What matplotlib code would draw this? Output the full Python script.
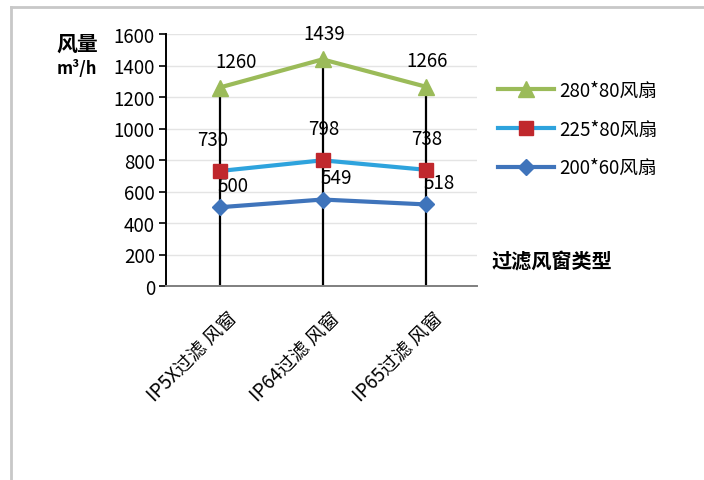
import matplotlib.pyplot as plt
from matplotlib.lines import Line2D
from matplotlib.transforms import ScaledTranslation

plt.rcParams['font.family'] = ['Noto Sans CJK SC', 'DejaVu Sans']

# filter window types and airflow (m3/h) for each fan size
categories = ['IP5X过滤 风窗', 'IP64过滤 风窗', 'IP65过滤 风窗']
fans = ['280*80风扇', '225*80风扇', '200*60风扇']
airflow_280 = [1260, 1439, 1266]
airflow_225 = [730, 798, 738]
airflow_200 = [500, 549, 518]

W, H = 704, 481
fig = plt.figure(figsize=(W / 100, H / 100), dpi=100)

# frame: only top and left edges are visible
frame = dict(transform=fig.transFigure, color='#c8c8c8', linewidth=2)
fig.lines.append(Line2D([11 / W, 11 / W], [0, 1 - 8 / H], **frame))
fig.lines.append(Line2D([11 / W, 1], [1 - 8 / H, 1 - 8 / H], **frame))

ax = fig.add_axes([166 / W, 194 / H, 311 / W, 252 / H])

x = list(range(len(categories)))

# drop lines from the top series down to the axis
ax.vlines(x, 0, airflow_280, color='black', linewidth=1.6, zorder=2)

ax.plot(x, airflow_280, color='#9bbb59', linewidth=3, marker='^', markersize=11,
        label=fans[0], zorder=3)
ax.plot(x, airflow_225, color='#2ea3dd', linewidth=3, marker='s', markersize=10,
        markerfacecolor='#c0282d', markeredgecolor='#c0282d', label=fans[1], zorder=4)
ax.plot(x, airflow_200, color='#3f74bb', linewidth=3, marker='D', markersize=8,
        label=fans[2], zorder=3)

fs = 13.5
for i in x:
    ax.annotate(str(airflow_280[i]), (i, airflow_280[i]), xytext=(12 if i == 0 else 1, 11),
                textcoords='offset points', ha='center', va='bottom', fontsize=fs)
    ax.annotate(str(airflow_225[i]), (i, airflow_225[i]), xytext=(-5 if i == 0 else 1, 15),
                textcoords='offset points', ha='center', va='bottom', fontsize=fs)
    ax.annotate(str(airflow_200[i]), (i, airflow_200[i]), xytext=(10, 8),
                textcoords='offset points', ha='center', va='bottom', fontsize=fs)

ax.set_xlim(-0.52, 2.5)
ax.set_ylim(0, 1600)
ax.set_yticks(range(0, 1601, 200))
ax.yaxis.grid(True, color='#e4e4e4', linewidth=1)
ax.set_axisbelow(True)
ax.tick_params(axis='y', labelsize=fs, length=5, width=1.2, pad=3)
ax.tick_params(axis='x', length=0, pad=2)
ax.set_xticks(x)
ax.set_xticklabels(categories, rotation=45, ha='right', va='top',
                   rotation_mode='anchor', fontsize=13.5)
for lbl in ax.get_xticklabels():
    lbl.set_transform(lbl.get_transform() + ScaledTranslation(0.07, -0.19, fig.dpi_scale_trans))

for side in ['top', 'right']:
    ax.spines[side].set_visible(False)
ax.spines['left'].set_linewidth(1.4)
ax.spines['bottom'].set_color('#7f7f7f')
ax.spines['bottom'].set_linewidth(1.4)

fig.text(77 / W, 1 - 44 / H, '风量', fontsize=15, fontweight='bold', ha='center', va='center')
fig.text(77 / W, 1 - 69 / H, 'm³/h', fontsize=12, fontweight='bold', ha='center', va='center')
fig.text(552 / W, 1 - 262 / H, '过滤风窗类型', fontsize=14.5, fontweight='bold',
         ha='center', va='center')

fig.legend(loc='upper left', bbox_to_anchor=(490 / W, 1 - 73 / H), frameon=False,
           fontsize=fs, handlelength=3.0, handletextpad=0.3, labelspacing=0.95,
           borderaxespad=0)

fig.savefig('out.png', dpi=100)
